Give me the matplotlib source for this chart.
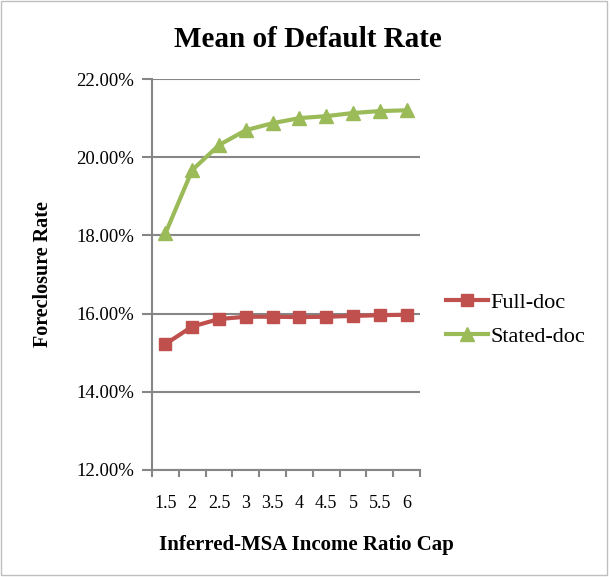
import matplotlib
matplotlib.use("Agg")
import matplotlib.pyplot as plt
from matplotlib.patches import Rectangle
from matplotlib.ticker import FixedLocator, FuncFormatter

categories = ["1.5", "2", "2.5", "3", "3.5", "4", "4.5", "5", "5.5", "6"]
full_doc = [15.22, 15.67, 15.86, 15.92, 15.92, 15.91, 15.92, 15.94, 15.96, 15.97]
stated_doc = [18.05, 19.67, 20.31, 20.69, 20.87, 21.00, 21.05, 21.13, 21.18, 21.20]
y_ticks = [12, 14, 16, 18, 20, 22]

plt.rcParams['font.family'] = ['Liberation Serif', 'DejaVu Serif']

W, H = 610, 577
fig = plt.figure(figsize=(W/100, H/100), dpi=100)
ax = fig.add_axes([152/W, 1-470/H, (420-152)/W, (470-79)/H])

grid_c = "#868686"
red = "#C0504D"
green = "#9BBB59"

x = list(range(len(categories)))
ax.plot(x, full_doc, color=red, lw=3, marker='s', ms=9, label="Full-doc", zorder=3)
ax.plot(x, stated_doc, color=green, lw=3, marker='^', ms=10, label="Stated-doc", zorder=3)

ax.set_xlim(-0.5, len(categories) - 0.5)
ax.set_ylim(12, 22)
ax.set_yticks(y_ticks)
ax.yaxis.set_major_formatter(FuncFormatter(lambda v, p: f"{v:.2f}%"))
ax.set_xticks(x)
ax.set_xticklabels(categories)
ax.xaxis.set_minor_locator(FixedLocator([i - 0.5 for i in range(len(categories) + 1)]))
ax.tick_params(axis='x', which='major', length=0, pad=18, labelsize=13)
ax.tick_params(axis='x', which='minor', length=5, width=1.5, color=grid_c, direction='out')
ax.tick_params(axis='y', length=7, width=1.5, color=grid_c, labelsize=13.5, pad=6)

ax.grid(axis='y', color=grid_c, lw=1.5)
ax.set_axisbelow(True)
for s in ['top', 'right']:
    ax.spines[s].set_visible(False)
for s in ['left', 'bottom']:
    ax.spines[s].set_color(grid_c)
    ax.spines[s].set_linewidth(1.5)

fig.text(307.5/W, 1-47/H, "Mean of Default Rate", fontsize=21, fontweight='bold',
         ha='center', va='baseline')
fig.text(53/W, 1-274.5/H, "Foreclosure Rate", fontsize=14.5, fontweight='bold',
         rotation=90, ha='right', va='center')
fig.text(306.5/W, 1-550/H, "Inferred-MSA Income Ratio Cap", fontsize=15, fontweight='bold',
         ha='center', va='baseline')

leg = fig.legend(*ax.get_legend_handles_labels(), loc='center left',
                 bbox_to_anchor=(446/W, 1-319.5/H), frameon=False,
                 fontsize=16, handlelength=1.9, handletextpad=0.1, labelspacing=0.6,
                 borderaxespad=0, borderpad=0)

fig.patches.append(Rectangle((0.5/W, 2/H), 606/W, 574/H, transform=fig.transFigure,
                             fill=False, edgecolor="#BFBFBF", lw=1))

fig.savefig("out.png", dpi=100)
